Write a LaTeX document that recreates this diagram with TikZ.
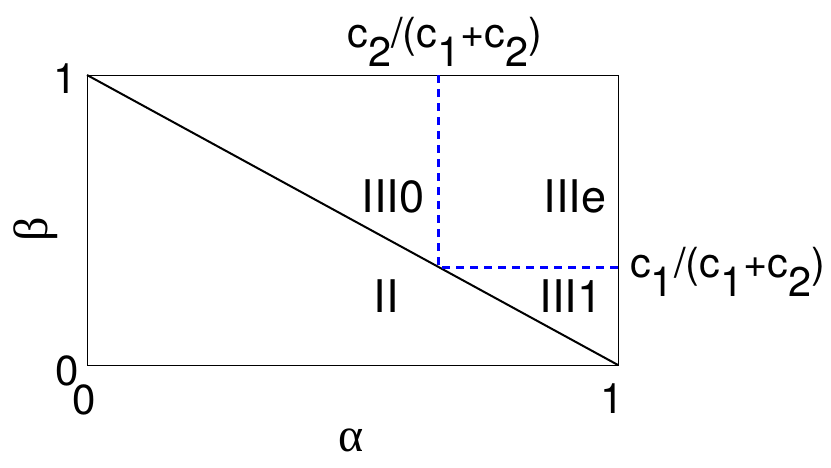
\documentclass[tikz,border=0pt]{standalone}
\usepackage{fontspec}
\setmainfont{TeX Gyre Heros}
\newfontfamily\greekfont{Liberation Serif}
\newcommand{\lowsub}[1]{\raisebox{-0.48em}{#1}}
\tikzset{
  lbl/.style={inner sep=0pt, anchor=base, font=\fontsize{45}{45}\selectfont},
  clbl/.style={inner sep=0pt, anchor=base, font=\fontsize{41.5}{41.5}\selectfont},
  tick/.style={inner sep=0pt, anchor=base, font=\fontsize{42}{42}\selectfont},
  greek/.style={inner sep=0pt, font=\fontsize{48}{48}\selectfont\greekfont},
  frame/.style={draw=black, line width=0.8pt},
  curve/.style={draw=black, line width=2pt},
  bound/.style={draw=blue, line width=2.8pt, dash pattern=on 8pt off 6pt}
}
\begin{document}
\begin{tikzpicture}[x=1pt,y=-1pt]
\useasboundingbox (0,0) rectangle (831,467);
\coordinate (TL) at (87,75);
\coordinate (BR) at (618,365);
\coordinate (P) at (438.5,267.3);
\coordinate (T) at (438.5,75);
\coordinate (R) at (618,267.3);
\draw[frame] (TL) rectangle (BR);
\draw[curve] (TL) -- (BR);
\draw[bound] (T) -- (P) -- (R);
\node[clbl] (c2) at (445,47) {c\lowsub{2}/(c\lowsub{1}+c\lowsub{2})};
\node[clbl, anchor=base west] (c1) at (630,277) {c\lowsub{1}/(c\lowsub{1}+c\lowsub{2})};
\node[lbl] (r30) at (393,212) {III0};
\node[lbl] (r3e) at (575,212) {IIIe};
\node[lbl] (r2) at (386,312) {II};
\node[lbl] (r31) at (571,312) {III1};
\node[tick] (y1) at (65,93) {1};
\node[tick] (y0) at (67,385) {0};
\node[tick] (x0) at (84,414) {0};
\node[tick] (x1) at (612,413) {1};
\node[greek] (al) at (351,440) {α};
\node[greek, rotate=90] (be) at (36,229) {β};
\end{tikzpicture}
\end{document}
